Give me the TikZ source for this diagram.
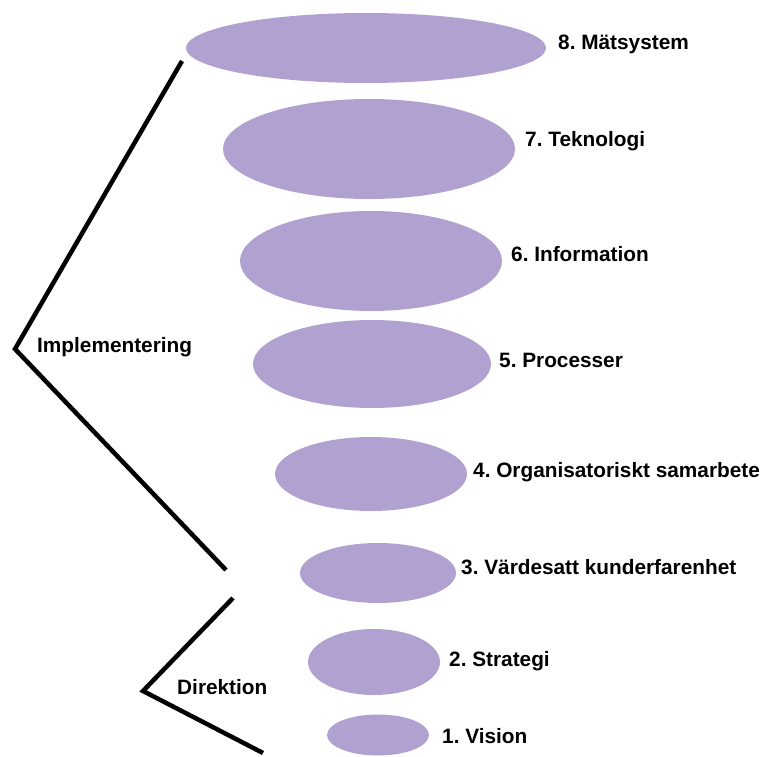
\documentclass[tikz,border=0pt]{standalone}
\usepackage{fontspec}
\setmainfont{Liberation Sans}
\frenchspacing
\begin{document}
\begin{tikzpicture}[x=1pt,y=-1pt,
  layer/.style={fill=lav,draw=none},
  lbl/.style={anchor=base west,inner sep=0pt,font=\fontsize{20.8}{24}\selectfont\bfseries,text=black},
  brace/.style={line width=4.5pt,line join=miter,draw=black}]
\definecolor{lav}{RGB}{177,161,209}
\useasboundingbox (0,0) rectangle (761,757);
% stacked layers, widest at the top
\fill[layer] (366,48) ellipse [x radius=180,y radius=35];
\fill[layer] (369,149) ellipse [x radius=146,y radius=50];
\fill[layer] (371,261) ellipse [x radius=131,y radius=50];
\fill[layer] (372,364) ellipse [x radius=119,y radius=44];
\fill[layer] (371,474) ellipse [x radius=96,y radius=37];
\fill[layer] (378,573) ellipse [x radius=78,y radius=30];
\fill[layer] (374,662) ellipse [x radius=66,y radius=33];
\fill[layer] (378,735) ellipse [x radius=51,y radius=20.5];
% layer names
\node[lbl] (l8) at (558,50) {8. Mätsystem};
\node[lbl] (l7) at (525,147) {7. Teknologi};
\node[lbl] (l6) at (511,261) {6. Information};
\node[lbl] (l5) at (499,367) {5. Processer};
\node[lbl] (l4) at (473,477) {4. Organisatoriskt samarbete};
\node[lbl] (l3) at (461,574) {3. Värdesatt kunderfarenhet};
\node[lbl] (l2) at (449,666) {2. Strategi};
\node[lbl] (l1) at (442,743) {1. Vision};
% group brackets
\coordinate (i1) at (182,61);
\coordinate (i2) at (15,349);
\coordinate (i3) at (226,570);
\draw[brace] (i1) -- (i2) -- (i3);
\node[lbl] (impl) at (37,352) {Implementering};
\coordinate (d1) at (233,598);
\coordinate (d2) at (143,691);
\coordinate (d3) at (263,753);
\draw[brace] (d1) -- (d2) -- (d3);
\node[lbl] (dir) at (177,694) {Direktion};
\end{tikzpicture}
\end{document}
